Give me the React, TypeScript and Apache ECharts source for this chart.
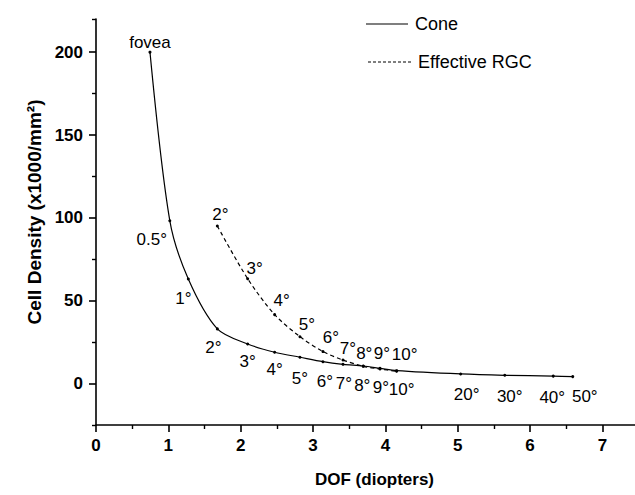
import React, { useEffect, useRef } from "react";
import * as echarts from "echarts";

// ---- data ----
const coneLabels = ["fovea", "0.5°", "1°", "2°", "3°", "4°", "5°", "6°", "7°", "8°", "9°", "10°", "20°", "30°", "40°", "50°"];
const coneDOF = [0.746, 1.02, 1.276, 1.677, 2.096, 2.469, 2.819, 3.137, 3.414, 3.694, 3.925, 4.155, 5.04, 5.65, 6.32, 6.59];
const coneDensity = [200, 98.3, 63.1, 33.0, 23.9, 18.9, 15.9, 13.2, 11.6, 10.6, 9.2, 7.8, 5.8, 5.0, 4.5, 4.2];

const rgcLabels = ["2°", "3°", "4°", "5°", "6°", "7°", "8°", "9°", "10°"];
const rgcDOF = [1.677, 2.096, 2.469, 2.819, 3.137, 3.414, 3.694, 3.925, 4.155];
const rgcDensity = [95.1, 63.3, 41.6, 28.3, 19.3, 14.2, 10.4, 8.8, 7.4];

const xMajorTicks = [0, 1, 2, 3, 4, 5, 6, 7];
const xMinorTicks = [0.5, 1.5, 2.5, 3.5, 4.5, 5.5, 6.5];
const yMajorTicks = [0, 50, 100, 150, 200];
const yMinorTicks = [-25, 25, 75, 125, 175, 220];

// ---- layout of the point annotations (pixel nudges) ----
const coneLabelPos = ["top", "bottom", "bottom", "bottom", "bottom", "bottom", "bottom", "bottom", "bottom", "bottom", "bottom", "bottom", "bottom", "bottom", "bottom", "bottom"];
const coneLabelShift = [[0, 2], [-18, 4], [-5, 4], [-4, 4], [0, 3], [0, 2], [0, 6], [2, 5], [1, 4], [-1, 4], [1, 4], [5, 4], [6, 6], [5, 6], [-1, 6], [12, 5]];
const rgcLabelShift = [[3, 1], [7, 2], [7, -2], [7, 0], [8, -2], [5, 0], [1, -1], [2, -3], [8, -5]];

const FONT = "'Liberation Sans', Arial, Helvetica, sans-serif";

export default function App() {
  const ref = useRef<HTMLDivElement>(null);

  useEffect(() => {
    document.body.style.margin = "0";
    const chart = echarts.init(ref.current!, undefined, { renderer: "svg" });

    const coneData = coneDOF.map((x, i) => ({
      value: [x, coneDensity[i]],
      label: {
        show: true,
        formatter: coneLabels[i],
        position: coneLabelPos[i],
        distance: coneLabelPos[i] === "top" ? 2 : 5,
      },
    }));
    const rgcData = rgcDOF.map((x, i) => ({
      value: [x, rgcDensity[i]],
      label: {
        show: true,
        formatter: rgcLabels[i],
        position: "top",
        distance: 2,
      },
    }));

    const axisLineStyle = { color: "#000", width: 1.6 };
    const labelStyle = { color: "#000", fontFamily: FONT, fontSize: 17 };

    chart.setOption({
      animation: false,
      textStyle: { fontFamily: FONT },
      grid: { left: 96, right: 0, top: 19, bottom: 70, containLabel: false },
      xAxis: [
        {
          type: "value",
          min: 0,
          max: 7.45,
          axisLine: { show: true, onZero: false, lineStyle: axisLineStyle },
          axisTick: { show: true, customValues: xMajorTicks, length: 7, lineStyle: { color: "#000", width: 1.6 } },
          axisLabel: { customValues: xMajorTicks, color: "#000", fontWeight: "bold", fontSize: 17, fontFamily: FONT, margin: 12 },
          splitLine: { show: false },
          name: "DOF (diopters)",
          nameLocation: "middle",
          nameGap: 46,
          nameTextStyle: { color: "#000", fontWeight: "bold", fontSize: 17, fontFamily: FONT, padding: [0, 0, 0, 18] },
        },
        {
          type: "value",
          min: 0,
          max: 7.45,
          position: "bottom",
          axisLine: { show: false, onZero: false },
          axisTick: { show: true, customValues: xMinorTicks, length: 4, lineStyle: { color: "#000", width: 1.4 } },
          axisLabel: { show: false },
          splitLine: { show: false },
        },
      ],
      yAxis: [
        {
          type: "value",
          min: -25,
          max: 220,
          axisLine: { show: true, onZero: false, lineStyle: axisLineStyle },
          axisTick: { show: true, customValues: yMajorTicks, length: 7, lineStyle: { color: "#000", width: 1.6 } },
          axisLabel: { customValues: yMajorTicks, color: "#000", fontWeight: "bold", fontSize: 17, fontFamily: FONT, margin: 13 },
          splitLine: { show: false },
          name: "Cell Density (x1000/mm²)",
          nameLocation: "middle",
          nameGap: 50,
          nameRotate: 90,
          nameTextStyle: { color: "#000", fontWeight: "bold", fontSize: 19, fontFamily: FONT, padding: [0, 0, 0, 20] },
        },
        {
          type: "value",
          min: -25,
          max: 220,
          position: "left",
          axisLine: { show: false, onZero: false },
          axisTick: { show: true, customValues: yMinorTicks, length: 4, lineStyle: { color: "#000", width: 1.4 } },
          axisLabel: { show: false },
          splitLine: { show: false },
        },
      ],
      series: [
        {
          name: "Cone",
          type: "line",
          data: coneData,
          smooth: 0.3,
          symbol: "circle",
          symbolSize: 3,
          itemStyle: { color: "#000" },
          lineStyle: { color: "#000", width: 1.2 },
          label: labelStyle,
          labelLayout: (p: any) => ({ dx: coneLabelShift[p.dataIndex][0], dy: coneLabelShift[p.dataIndex][1], hideOverlap: false }),
          z: 3,
        },
        {
          name: "Effective RGC",
          type: "line",
          data: rgcData,
          smooth: 0.3,
          symbol: "circle",
          symbolSize: 3,
          itemStyle: { color: "#000" },
          lineStyle: { color: "#000", width: 1.2, type: [4, 3] },
          label: labelStyle,
          labelLayout: (p: any) => ({ dx: rgcLabelShift[p.dataIndex][0], dy: rgcLabelShift[p.dataIndex][1], hideOverlap: false }),
          z: 2,
        },
      ],
      graphic: [
        { type: "line", shape: { x1: 366, y1: 24, x2: 408, y2: 24 }, style: { stroke: "#000", lineWidth: 1.2 } },
        { type: "text", x: 415, y: 24, style: { text: "Cone", font: `18px ${FONT}`, fill: "#000", verticalAlign: "middle" } },
        { type: "line", shape: { x1: 368, y1: 62, x2: 412, y2: 62 }, style: { stroke: "#000", lineWidth: 1.2, lineDash: [3, 2] } },
        { type: "text", x: 418, y: 62, style: { text: "Effective RGC", font: `18px ${FONT}`, fill: "#000", verticalAlign: "middle" } },
      ],
    });

    return () => chart.dispose();
  }, []);

  return <div ref={ref} style={{ position: "absolute", left: 0, top: 0, width: 635, height: 495 }} />;
}
